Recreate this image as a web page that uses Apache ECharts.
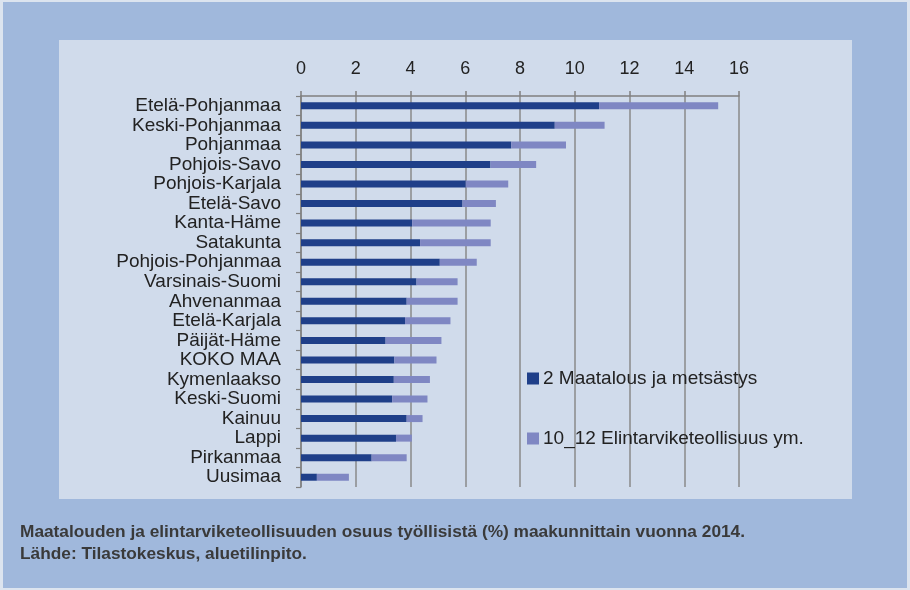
<!DOCTYPE html>
<html><head><meta charset="utf-8">
<script src="https://cdn.jsdelivr.net/npm/echarts@6/dist/echarts.min.js"></script>
<style>html,body{margin:0;padding:0;background:#dce4ef;}#c{width:910px;height:590px;}</style>
</head><body><div id="c"></div>
<script>
const categories = ["Etelä-Pohjanmaa","Keski-Pohjanmaa","Pohjanmaa","Pohjois-Savo","Pohjois-Karjala","Etelä-Savo","Kanta-Häme","Satakunta","Pohjois-Pohjanmaa","Varsinais-Suomi","Ahvenanmaa","Etelä-Karjala","Päijät-Häme","KOKO MAA","Kymenlaakso","Keski-Suomi","Kainuu","Lappi","Pirkanmaa","Uusimaa"];
const maatalous = [10.89,9.27,7.68,6.92,6.02,5.90,4.06,4.35,5.07,4.22,3.86,3.80,3.09,3.41,3.39,3.33,3.86,3.47,2.58,0.58];
const elintarvike = [4.35,1.82,2.00,1.67,1.55,1.22,2.87,2.58,1.35,1.50,1.86,1.66,2.04,1.54,1.32,1.29,0.58,0.58,1.28,1.17];
const xTicks = [0,2,4,6,8,10,12,14,16];
const seriesNames = ["2 Maatalous ja metsästys","10_12 Elintarviketeollisuus ym."];
const captionLines = ["Maatalouden ja elintarviketeollisuuden osuus työllisistä (%) maakunnittain vuonna 2014.","Lähde: Tilastokeskus, aluetilinpito."];

const chart = echarts.init(document.getElementById('c'), null, {renderer:'canvas'});
const sans = 'Liberation Sans, Arial, sans-serif';
chart.setOption({
  animation:false,
  backgroundColor:'transparent',
  graphic:[
    {type:'rect', z:-20, shape:{x:3,y:2,width:904,height:586}, style:{fill:'#a0b8dc'}},
    {type:'rect', z:-19, shape:{x:59,y:40,width:793,height:459}, style:{fill:'#d0dbeb'}},
    {type:'text', z:5, left:20, top:524, style:{text:captionLines[0], font:'bold 17.3px '+sans, fill:'#3a3a3a'}},
    {type:'text', z:5, left:20, top:546, style:{text:captionLines[1], font:'bold 17.3px '+sans, fill:'#3a3a3a'}}
  ],
  legend:{
    orient:'vertical', left:522, top:364, itemGap:41, itemWidth:12, itemHeight:12,
    icon:'rect', data:seriesNames,
    textStyle:{fontFamily:sans, fontSize:19, color:'#222', padding:[0,0,0,-1]}
  },
  grid:{left:301, right:171, top:96, bottom:103, containLabel:false},
  xAxis:{
    type:'value', position:'top', min:0, max:16, interval:2,
    axisLine:{show:true, lineStyle:{color:'#808080', width:1.5}},
    axisTick:{show:true, length:5, lineStyle:{color:'#808080', width:1.5}},
    axisLabel:{fontSize:18, color:'#222', fontFamily:sans, margin:18,
      formatter:(v)=> xTicks.includes(v) ? String(v) : ''},
    splitLine:{show:true, lineStyle:{color:'#8a8a8a', width:1.5}}
  },
  yAxis:{
    type:'category', data:categories, inverse:true,
    axisLine:{show:true, lineStyle:{color:'#808080', width:1.5}},
    axisTick:{show:true, length:5, lineStyle:{color:'#808080', width:1.2}},
    axisLabel:{interval:0, fontSize:19, color:'#222', fontFamily:sans, margin:20}
  },
  series:[
    {name:seriesNames[0], type:'bar', stack:'t', data:maatalous, barWidth:7, itemStyle:{color:'#1f3f89'}},
    {name:seriesNames[1], type:'bar', stack:'t', data:elintarvike, barWidth:7, itemStyle:{color:'#7f87c3'}}
  ]
});
</script></body></html>
